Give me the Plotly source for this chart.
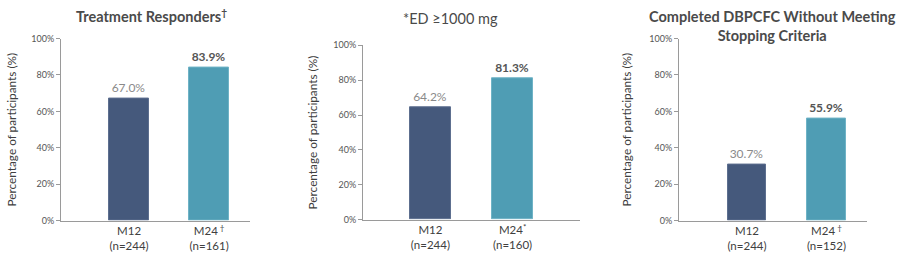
import plotly.graph_objects as go

categories = ["M12", "M24"]
panel_titles = ["<b>Treatment Responders<sup>†</sup></b>", "*ED ≥1000 mg",
                "<b>Completed DBPCFC Without Meeting<br>Stopping Criteria</b>"]
tick_labels = [
    ["M12<br>(n=244)", "M24<sup> †</sup><br>(n=161)"],
    ["M12<br>(n=244)", "M24<sup>*</sup><br>(n=160)"],
    ["M12<br>(n=244)", "M24<sup> †</sup><br>(n=152)"],
]
values = [
    [67.0, 83.9],
    [64.2, 81.3],
    [30.7, 55.9],
]
y_ticks = [0, 20, 40, 60, 80, 100]
y_tick_labels = ["0%", "20%", "40%", "60%", "80%", "100%"]

W, H = 900, 261
FONT = "Lato"
bar_colors = ["#45597c", "#4f9db4"]
line_colors = ["#5d6f8f", "#6fb3c6"]

# pixel layout per panel: (x_left, x_right, y_top(100%), y_bottom(0%), xrange, barwidth, title_x, title_y, ytitle_x)
panels = [
    (61, 250, 34, 224, [-0.85, 1.51], 0.5, 151, 10, 12),
    (363, 580, 41, 223, [-0.82, 1.82], 0.5, 450, 13, 312),
    (679, 867, 34, 224, [-0.855, 1.51], 0.48, 772, 21, 627),
]

fig = go.Figure()
annotations = []
for i, (xl, xr, yt, yb, xr_rng, bw, tx, ty, ytx) in enumerate(panels):
    n = "" if i == 0 else str(i + 1)
    vals = values[i]
    texts = [f"{vals[0]:.1f}%", f"<b>{vals[1]:.1f}%</b>"]
    fig.add_trace(go.Bar(
        x=[0, 1], y=vals, width=bw,
        marker=dict(color=bar_colors, line=dict(color=line_colors, width=1)),
        text=texts, textposition="outside", cliponaxis=False,
        textfont=dict(family=FONT, size=12, color=["#8a8a8a", "#555555"]),
        xaxis="x" + n, yaxis="y" + n, showlegend=False, hoverinfo="skip",
    ))
    fig.layout["xaxis" + n] = dict(
        domain=[xl / W, xr / W], range=xr_rng, anchor="y" + n,
        tickmode="array", tickvals=[0, 1], ticktext=tick_labels[i],
        showline=True, linecolor="#9a9a9a", linewidth=1, ticks="",
        showgrid=False, zeroline=False, fixedrange=True,
        tickfont=dict(family=FONT, size=11.5, color="#404040"),
    )
    fig.layout["yaxis" + n] = dict(
        domain=[(H - yb) / H, (H - yt) / H], range=[0, 100], anchor="x" + n,
        tickmode="array", tickvals=y_ticks, ticktext=y_tick_labels,
        showline=True, linecolor="#9a9a9a", linewidth=1,
        ticks="outside", ticklen=4, tickcolor="#9a9a9a",
        showgrid=False, zeroline=False, fixedrange=True,
        tickfont=dict(family=FONT, size=9, color="#555555"),
    )
    is_bold = i != 1
    annotations.append(dict(
        text=panel_titles[i], x=tx / W, y=1 - ty / H, xref="paper", yref="paper",
        xanchor="center", yanchor="middle", showarrow=False,
        font=dict(family=FONT, size=14.5 if is_bold else 14.5, color="#4a4a4a"),
    ))
    annotations.append(dict(
        text="Percentage of participants (%)", x=ytx / W, y=1 - ((yt + yb) / 2) / H,
        xref="paper", yref="paper", textangle=-90, xanchor="center", yanchor="middle",
        showarrow=False, font=dict(family=FONT, size=11.8, color="#404040"),
    ))

fig.update_layout(
    width=W, height=H, margin=dict(l=0, r=0, t=0, b=0),
    paper_bgcolor="white", plot_bgcolor="white",
    annotations=annotations, bargap=0,
)
fig.write_html("out.html")
